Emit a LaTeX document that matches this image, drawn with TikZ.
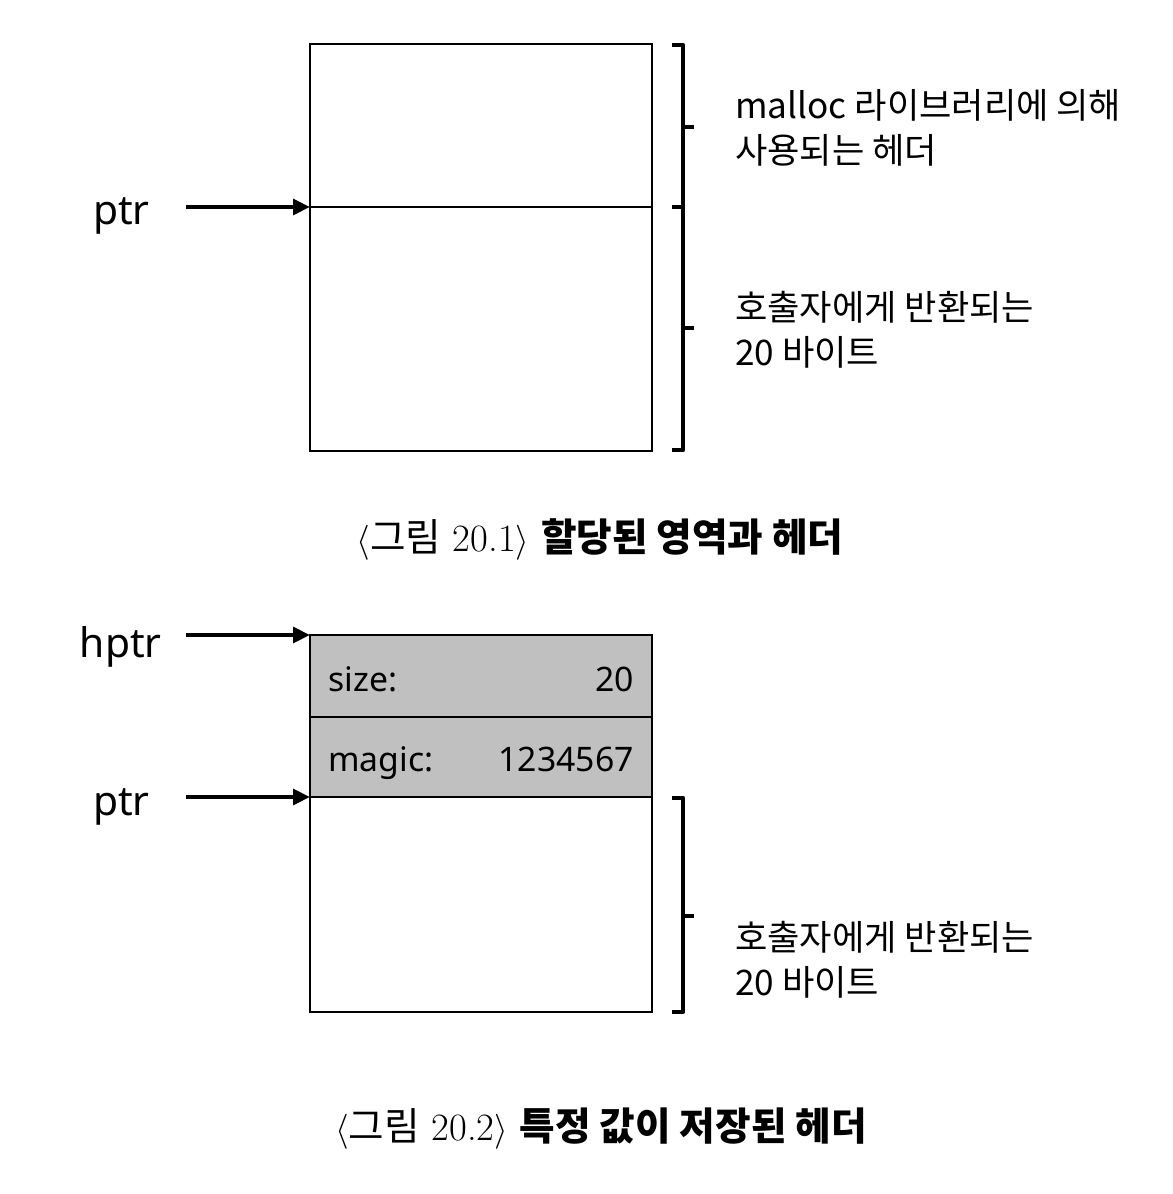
\documentclass[tikz,border=0pt]{standalone}
\usepackage{fontspec}
\newfontfamily\krfont{Noto Sans CJK KR}
\newfontfamily\uifont{Noto Sans}
\usetikzlibrary{arrows.meta,calc}
\definecolor{hdrgray}{RGB}{192,192,192}

\tikzset{
  box/.style={line width=1.1pt},
  ptrarrow/.style={line width=3.2pt, -{Triangle[length=12pt,width=11pt]}},
  brace/.style={line width=3.3pt, line join=round},
  ptrlbl/.style={font=\uifont\fontsize{29}{34}\selectfont, inner sep=0pt},
  fieldlbl/.style={font=\uifont\fontsize{24}{28}\selectfont, inner sep=0pt},
  notelbl/.style={font=\krfont\fontsize{25}{32}\selectfont, align=left, inner sep=0pt},
  caption/.style={font=\fontsize{27.5}{32}\selectfont, inner sep=0pt},
}

% 오른쪽 괄호: 위, 아래, 꼭지
\newcommand{\sidebrace}[3]{%
  \draw[brace] (672,#1) -- (683,#1) -- (683,#2) -- (672,#2);
  \draw[brace] (683,#3) -- (694,#3);
}

\begin{document}
\begin{tikzpicture}[x=0.025cm, y=-0.025cm]

    \useasboundingbox (0,0) rectangle (1172,1194);

    % 그림 20.1: 헤더 + 20바이트 영역
    \coordinate (A1) at (310,44);
    \coordinate (B1) at (652,451);
    \coordinate (M1) at (310,207);
    \coordinate (N1) at (652,207);

    \draw[box] (A1) rectangle (B1);
    \draw[box] (M1) -- (N1);

    % 포인터
    \node[ptrlbl, anchor=base east] (ptr1) at (150,225) {ptr};
    \draw[ptrarrow] ($(ptr1.east |- M1)+(36,0)$) -- (M1);

    % 괄호와 설명
    \sidebrace{45}{207}{127}
    \sidebrace{207}{450}{328}
    \node[notelbl, anchor=west] (note1) at (735,128) {malloc 라이브러리에 의해\\사용되는 헤더};
    \node[notelbl, anchor=west] (note2) at (735,330) {호출자에게 반환되는\\20 바이트};

    \node[caption, anchor=base] (cap1) at (600,551)
      {$\langle${\krfont 그림} 20.1$\rangle$ {\krfont\bfseries 할당된 영역과 헤더}};

    % 그림 20.2: size, magic 필드가 있는 헤더
    \coordinate (A2) at (310,635);
    \coordinate (B2) at (652,1012);
    \coordinate (S2) at (310,717);
    \coordinate (T2) at (652,717);
    \coordinate (P2) at (310,797);
    \coordinate (Q2) at (652,797);

    \fill[hdrgray] (A2) rectangle (Q2);
    \draw[box] (A2) rectangle (B2);
    \draw[box] (S2) -- (T2);
    \draw[box] (P2) -- (Q2);

    \node[fieldlbl, anchor=base west] (sizek) at (328,691) {size:};
    \node[fieldlbl, anchor=base east] (sizev) at (634,691) {20};
    \node[fieldlbl, anchor=base west] (magick) at (328,771) {magic:};
    \node[fieldlbl, anchor=base east] (magicv) at (634,771) {1234567};

    % 포인터
    \node[ptrlbl, anchor=base east] (hptr) at (162,657) {hptr};
    \node[ptrlbl, anchor=base east] (ptr2) at (150,815) {ptr};
    \draw[ptrarrow] ($(ptr1.east |- A2)+(36,0)$) -- (A2);
    \draw[ptrarrow] ($(ptr2.east |- P2)+(36,0)$) -- (P2);

    \sidebrace{798}{1012}{916}
    \node[notelbl, anchor=west] (note3) at (735,960) {호출자에게 반환되는\\20 바이트};

    \node[caption, anchor=base] (cap2) at (601,1140)
      {$\langle${\krfont 그림} 20.2$\rangle$ {\krfont\bfseries 특정 값이 저장된 헤더}};

\end{tikzpicture}
\end{document}
